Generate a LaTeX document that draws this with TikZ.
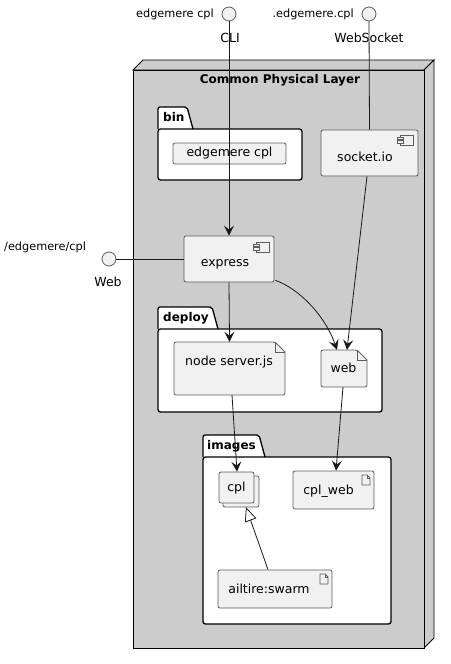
\documentclass[tikz,border=0pt]{standalone}
\usepackage{fontspec}
\setmainfont{DejaVu Sans}
\usetikzlibrary{arrows.meta,calc}
\definecolor{nodefill}{HTML}{F1F1F1}
\definecolor{bord}{HTML}{181818}
\definecolor{layer}{HTML}{CCCCCC}
\tikzset{
  thin line/.style={draw=bord, line width=0.8pt},
  boxnode/.style={draw=bord!70, line width=0.8pt, fill=nodefill, rounded corners=2pt, inner sep=0pt},
  txt/.style={font=\fontsize{12.5}{14}\selectfont, inner sep=0pt, text height=9pt, text depth=2.5pt},
  lbls/.style={font=\fontsize{11.3}{13}\selectfont, inner sep=0pt, text height=8.5pt, text depth=2.5pt},
  pkgtitle/.style={font=\bfseries\fontsize{12}{14}\selectfont, inner sep=0pt, text height=9pt, text depth=2.5pt},
  pkg/.style={draw=black, line width=1.3pt, fill=white},
  iface/.style={circle, draw=bord!70, line width=0.8pt, fill=nodefill, minimum size=14pt, inner sep=0pt},
  arr/.style={thin line, -{Stealth[length=10pt,width=10pt,inset=4pt]}},
  inh/.style={thin line, -{Triangle[open,length=14pt,width=12pt,fill=white]}},
  compicon/.pic={
    \draw[draw=bord!70, line width=0.8pt, fill=nodefill] (-13,0) rectangle (0,10);
    \draw[draw=bord!70, line width=0.8pt, fill=nodefill] (-16,2) rectangle (-10,4.5);
    \draw[draw=bord!70, line width=0.8pt, fill=nodefill] (-16,5.5) rectangle (-10,8);
  },
  fileicon/.pic={
    \draw[draw=bord!70, line width=0.8pt, fill=nodefill] (-8,0) -- (-3,0) -- (0,3) -- (0,10) -- (-8,10) -- cycle;
    \draw[draw=bord!70, line width=0.8pt] (-3,0) -- (-3,3) -- (0,3);
  }
}
\begin{document}
\begin{tikzpicture}[x=1pt,y=-1pt]
\useasboundingbox (0,0) rectangle (450,664);

% 3D node
\draw[thin line, draw=black, fill=layer] (133,70) -- (143,60) -- (434,60) -- (424,70) -- cycle;
\draw[thin line, draw=black, fill=layer] (424,70) -- (434,60) -- (434,638) -- (424,648) -- cycle;
\draw[thin line, draw=black, fill=layer] (133,70) rectangle (424,648);
\node[pkgtitle] (cpltitle) at (280,80) {Common Physical Layer};

% bin package
\draw[pkg, rounded corners=2pt] (158,129) -- (158,107) -- (187,107) -- (193,129);
\draw[pkg, rounded corners=2.5pt] (158,129) rectangle (302,180);
\node[pkgtitle, anchor=west] (bintitle) at (163,118) {bin};

% deploy package
\draw[pkg, rounded corners=2pt] (158,329) -- (158,307) -- (212,307) -- (218,329);
\draw[pkg, rounded corners=2.5pt] (158,329) rectangle (382,412);
\node[pkgtitle, anchor=west] (deploytitle) at (163,318) {deploy};

% images package
\draw[pkg, rounded corners=2pt] (203,457) -- (203,435) -- (259,435) -- (265,457);
\draw[pkg, rounded corners=2.5pt] (203,457) rectangle (391,624);
\node[pkgtitle, anchor=west] (imagestitle) at (207,446) {images};

% interfaces
\node[iface] (cli) at (229,14) {};
\node[lbls, anchor=east] (clil) at (214,14) {edgemere cpl};
\node[lbls, font=\fontsize{12.5}{14}\selectfont] (clin) at (230,39) {CLI};
\node[iface] (ws) at (369,14) {};
\node[lbls, anchor=east] (wsl) at (354,14) {.edgemere.cpl};
\node[lbls, font=\fontsize{12.5}{14}\selectfont] (wsn) at (369,39) {WebSocket};
\node[iface] (webif) at (109,259) {};
\node[lbls, anchor=west] (webifl) at (4,247) {/edgemere/cpl};
\node[lbls, font=\fontsize{12.5}{14}\selectfont] (webifn) at (108,283) {Web};

% edgemere cpl box
\node[boxnode, minimum width=113pt, minimum height=21pt] (ecpl) at (229.5,153.5) {};
\node[txt] (ecplt) at (229.5,153.5) {edgemere cpl};

% socket.io component
\node[boxnode, minimum width=97pt, minimum height=46pt] (socketio) at (369.5,153) {};
\pic at (413,135) {compicon};
\node[txt] (socketiot) at (365,158) {socket.io};

% express component
\node[boxnode, minimum width=90pt, minimum height=46pt] (express) at (229,259) {};
\pic at (269,242) {compicon};
\node[txt] (expresst) at (225,263) {express};

% node server.js artifact
\draw[draw=bord!70, line width=0.8pt, fill=nodefill, rounded corners=2pt] (174,342) -- (275,342) [sharp corners] -- (285,352) [rounded corners=2pt] -- (285,395) -- (174,395) -- cycle;
\draw[draw=bord!70, line width=0.8pt] (275,342) -- (275,352) -- (285,352);
\node[inner sep=0pt, minimum width=111pt, minimum height=53pt] (serverb) at (229.5,368.5) {};
\node[txt] (servert) at (229,362) {node server.js};

% web artifact
\draw[draw=bord!70, line width=0.8pt, fill=nodefill, rounded corners=2pt] (321,350) -- (357,350) [sharp corners] -- (367,360) [rounded corners=2pt] -- (367,387) -- (321,387) -- cycle;
\draw[draw=bord!70, line width=0.8pt] (357,350) -- (357,360) -- (367,360);
\node[inner sep=0pt, minimum width=46pt, minimum height=37pt] (web) at (344,368.5) {};
\node[txt] (webt) at (343.5,369) {web};

% cpl collection
\draw[draw=bord!70, line width=0.8pt, fill=nodefill, rounded corners=2pt] (223,476) rectangle (259,507);
\node[boxnode, minimum width=35pt, minimum height=31pt] (cplf) at (236.5,487.5) {};
\node[txt] (cplt) at (236.5,488) {cpl};
\node[inner sep=0pt, minimum width=40pt, minimum height=35pt] (cplall) at (239,489.5) {};

% cpl_web artifact
\node[boxnode, minimum width=81pt, minimum height=38pt] (cplweb) at (333.5,490) {};
\pic at (370,475) {fileicon};
\node[txt] (cplwebt) at (328.5,491) {cpl\_web};

% ailtire:swarm artifact
\node[boxnode, minimum width=114pt, minimum height=38pt] (swarm) at (275,589) {};
\pic at (328,574) {fileicon};
\node[txt] (swarmt) at (269,590) {ailtire:swarm};

% connectors
\draw[arr] (cli.south) -- (express.north);
\draw[thin line] (ws.south) -- (socketio.north);
\draw[thin line] (webif.east) -- (express.west);
\draw[arr] ($(socketio.south)+(-2.5,0)$) -- ($(web.north)+(3,0)$);
\draw[arr] (express.south) -- (serverb.north);
\draw[arr] ($(express.south east)+(1,-2)$) .. controls (298,288) and (325,315) .. ($(web.north)+(-7,0)$);
\draw[arr] ($(serverb.south)+(2.5,0)$) -- ($(cplf.north)+(0.5,0)$);
\draw[arr] ($(web.south)+(-1,0)$) -- ($(cplweb.north)+(2.5,0)$);
\draw[inh] ($(swarm.north)+(-7,0)$) -- ($(cplall.south)+(7,0)$);
\end{tikzpicture}
\end{document}
